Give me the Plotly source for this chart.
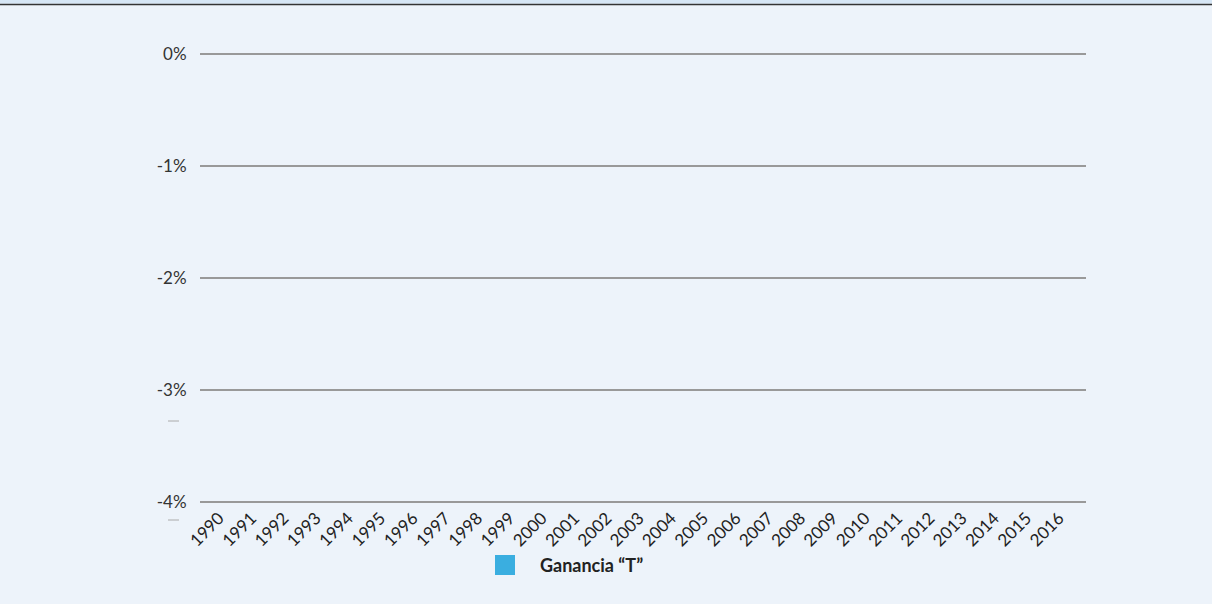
import plotly.graph_objects as go

years = [str(y) for y in range(1990, 2017)]
ganancia_t = [None] * len(years)
y_ticks = [0, -1, -2, -3, -4]
y_tick_labels = ["0%", "-1%", "-2%", "-3%", "-4%"]
series_name = "Ganancia “T”"
series_color = "#3AAEE0"

BG = "#EDF3FA"
FONT = "Lato, 'Open Sans', sans-serif"
TOP, BOT = 52, 504
H_PLOT = float(BOT - TOP)


def py(px):
    # convert pixel row (from top of figure) to paper y
    return (BOT - px) / H_PLOT


def px_x(px):
    return (px - 200) / 886.0


fig = go.Figure()
fig.add_trace(go.Bar(
    x=years, y=ganancia_t, name=series_name,
    marker_color=series_color, showlegend=False,
))

fig.update_layout(
    width=1212, height=604,
    paper_bgcolor=BG, plot_bgcolor=BG,
    margin=dict(l=200, r=126, t=TOP, b=604 - BOT),
    font=dict(family=FONT, size=16, color="#333333"),
    showlegend=False,
    xaxis=dict(
        type="category", range=[-0.59, len(years) - 0.16], tickangle=-45,
        showgrid=False, zeroline=False, fixedrange=True,
        showline=False, ticks="", tickfont=dict(size=17, color="#222222"),
    ),
    yaxis=dict(
        range=[-4.018, 0.018], tickvals=y_ticks, ticktext=y_tick_labels,
        showgrid=True, gridcolor="#999999", gridwidth=1.5, fixedrange=True,
        zeroline=False, showline=False, ticks="outside", ticklen=9,
        tickcolor=BG, tickfont=dict(size=17, color="#333333"),
    ),
    shapes=[
        dict(type="rect", xref="paper", yref="paper", x0=-0.3, x1=1.2,
             y0=py(3.5), y1=py(0),
             line=dict(width=0), fillcolor="#D6E6F5", layer="below"),
        dict(type="line", xref="paper", yref="paper", x0=-0.3, x1=1.2,
             y0=py(4.5), y1=py(4.5),
             line=dict(color="#333333", width=1.5)),
        dict(type="line", xref="paper", yref="paper", x0=px_x(168), x1=px_x(179),
             y0=py(421), y1=py(421),
             line=dict(color="#AAAAAA", width=1)),
        dict(type="line", xref="paper", yref="paper", x0=px_x(168), x1=px_x(179),
             y0=py(520), y1=py(520),
             line=dict(color="#AAAAAA", width=1)),
        # legend swatch
        dict(type="rect", xref="paper", yref="paper", x0=px_x(495), x1=px_x(515),
             y0=py(575), y1=py(555), line=dict(width=0), fillcolor=series_color),
    ],
    annotations=[
        dict(xref="paper", yref="paper", x=px_x(538), y=py(565),
             xanchor="left", yanchor="middle", showarrow=False,
             text="<b>" + series_name + "</b>",
             font=dict(family=FONT, size=18, color="#222222")),
    ],
)

fig.write_html("out.html", config={"displayModeBar": False},
               post_script="document.body.style.margin='0';")
